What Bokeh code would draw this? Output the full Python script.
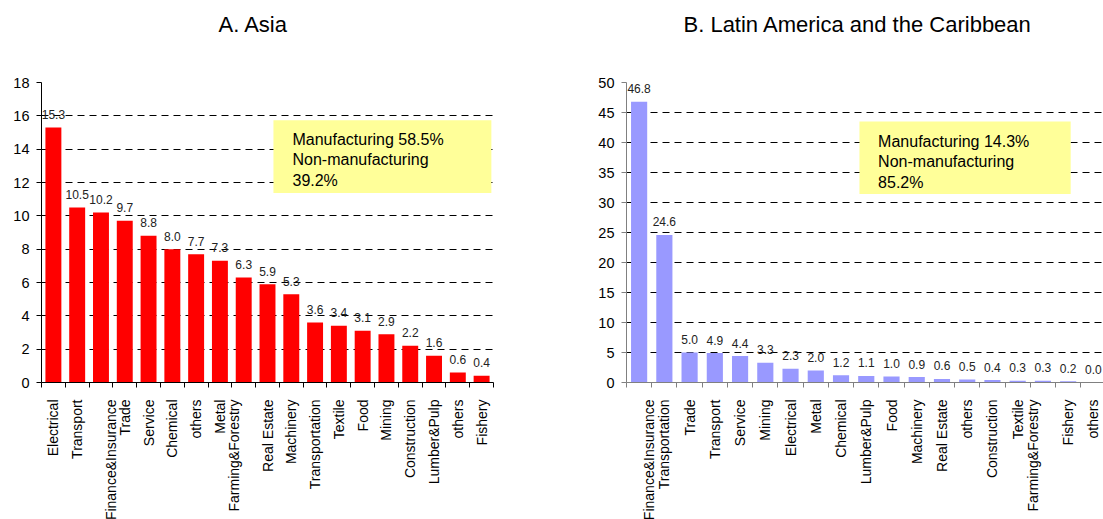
import math
from bokeh.plotting import figure
from bokeh.models import Range1d, FixedTicker, BoxAnnotation, Label, Title
from bokeh.layouts import row
from bokeh.embed import file_html
from bokeh.resources import INLINE

# ---------------- data ----------------
asia_title = "A. Asia"
asia_categories = ["Electrical", "Transport", "Finance&Insurance", "Trade", "Service",
                   "Chemical", "others", "Metal", "Farming&Forestry", "Real Estate",
                   "Machinery", "Transportation", "Textile", "Food", "Mining",
                   "Construction", "Lumber&Pulp", "others", "Fishery"]
asia_values = [15.3, 10.5, 10.2, 9.7, 8.8, 8.0, 7.7, 7.3, 6.3, 5.9, 5.3, 3.6, 3.4,
               3.1, 2.9, 2.2, 1.6, 0.6, 0.4]
asia_yticks = [0, 2, 4, 6, 8, 10, 12, 14, 16, 18]
asia_note = ["Manufacturing 58.5%", "Non-manufacturing", "39.2%"]

latam_title = "B. Latin America and the Caribbean"
latam_categories = ["Finance&Insurance", "Transportation", "Trade", "Transport", "Service",
                    "Mining", "Electrical", "Metal", "Chemical", "Lumber&Pulp", "Food",
                    "Machinery", "Real Estate", "others", "Construction", "Textile",
                    "Farming&Forestry", "Fishery", "others"]
latam_values = [46.8, 24.6, 5.0, 4.9, 4.4, 3.3, 2.3, 2.0, 1.2, 1.1, 1.0, 0.9, 0.6, 0.5,
                0.4, 0.3, 0.3, 0.2, 0.0]
latam_yticks = [0, 5, 10, 15, 20, 25, 30, 35, 40, 45, 50]
latam_note = ["Manufacturing 14.3%", "Non-manufacturing", "85.2%"]

FONT = "Liberation Sans"

# label layout quirk of the original (some rotated labels sit off-centre)
shift_right = {"Finance&Insurance"}
shift_left = {"Farming&Forestry"}


def display_label(name):
    if name in shift_right:
        return "\n" + name
    if name in shift_left:
        return name + "\n"
    return name


def make_chart(title, cats, vals, yticks, color, axis_color, x_end, frame_width,
               border_left, border_right, title_offset, bar_width,
               box, note_xy, note_lines):
    n = len(cats)
    xs = list(range(n))
    p = figure(frame_width=frame_width, frame_height=300,
               x_range=Range1d(-0.5, x_end), y_range=Range1d(yticks[0], yticks[-1]),
               output_backend="svg", toolbar_location=None,
               min_border_left=border_left, min_border_right=border_right,
               min_border_top=82, min_border_bottom=0,
               background_fill_color="white", border_fill_color="white",
               outline_line_color=None)
    # title sits well above the plotting area: blank lines below it keep the gap
    p.title = Title(text=title + "\n \n ", align="left", offset=title_offset, standoff=0,
                    vertical_align="top", text_font=FONT, text_font_size="22px",
                    text_line_height=0.88, text_font_style="normal", text_color="black")

    p.vbar(x=xs, top=vals, width=bar_width, fill_color=color, line_color=None)

    p.text(x=xs, y=vals, text=[f"{v:.1f}" for v in vals], text_align="center",
           text_baseline="alphabetic", y_offset=-13, text_font_size="12px",
           text_font={"value": FONT}, text_color="#222222")

    # x axis: labels at centres, ticks at category boundaries
    xa = p.xaxis[0]
    xa.ticker = FixedTicker(ticks=xs, minor_ticks=[i - 0.5 for i in range(n + 1)])
    xa.major_label_overrides = {i: display_label(c) for i, c in enumerate(cats)}
    xa.major_label_orientation = math.pi / 2
    xa.major_label_text_font = FONT
    xa.major_label_text_font_size = "14px"
    xa.major_label_text_color = "black"
    xa.major_label_standoff = 12
    xa.major_tick_out = 0
    xa.major_tick_in = 0
    xa.minor_tick_out = 5
    xa.minor_tick_in = 0
    xa.minor_tick_line_color = axis_color
    xa.axis_line_color = axis_color

    ya = p.yaxis[0]
    ya.ticker = FixedTicker(ticks=yticks)
    ya.major_label_text_font = FONT
    ya.major_label_text_font_size = "14.5px"
    ya.major_label_text_color = "black"
    ya.major_label_standoff = 7
    ya.major_tick_out = 5
    ya.major_tick_in = 0
    ya.minor_tick_line_color = None
    ya.axis_line_color = axis_color
    ya.major_tick_line_color = axis_color

    p.xgrid.visible = False
    p.ygrid.grid_line_color = "black"
    p.ygrid.grid_line_dash = "7 5"
    p.ygrid.grid_line_width = 1

    left, right, bottom, top = box
    p.add_layout(BoxAnnotation(left=left, right=right, bottom=bottom, top=top,
                               fill_color="#FFFF99", fill_alpha=1.0, line_color=None))
    p.add_layout(Label(x=note_xy[0], y=note_xy[1], text="\n".join(note_lines),
                       text_align="left", text_baseline="top", text_font=FONT,
                       text_font_size="16px", text_color="black"))
    return p


p1 = make_chart(asia_title, asia_categories, asia_values, asia_yticks,
                "#FF0000", "black", 18.5, 452, 41, 4, 177, 0.67,
                (9.25, 18.41, 11.37, 15.74), (10.05, 15.1), asia_note)
p2 = make_chart(latam_title, latam_categories, latam_values, latam_yticks,
                "#9999FF", "#808080", 18.4, 477, 129, 0, 57, 0.64,
                (8.73, 17.1, 31.4, 43.5), (9.47, 41.6), latam_note)

layout = row(p1, p2)
open("out.html", "w").write(file_html(layout, INLINE))
